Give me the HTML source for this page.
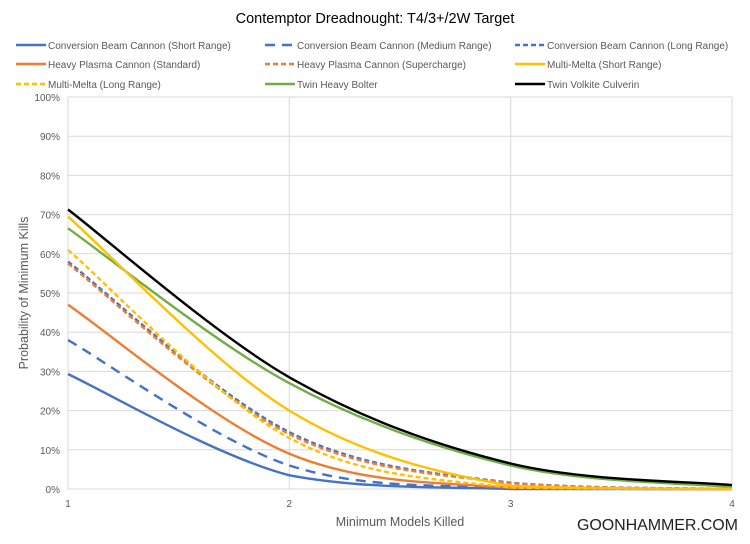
<!DOCTYPE html>
<html><head><meta charset="utf-8"><style>
body{margin:0;background:#fff}
svg{display:block;font-family:"Liberation Sans",sans-serif}
</style></head><body>
<svg id="s" width="750" height="544" xmlns="http://www.w3.org/2000/svg">
<rect width="750" height="544" fill="#fff"/>
<text x="375" y="23" font-size="14.5" text-anchor="middle" fill="#000">Contemptor Dreadnought: T4/3+/2W Target</text>
<g id="grid" stroke="#d9d9d9" stroke-width="1"></g>
<g id="lab" font-size="10" fill="#595959"></g>
<text x="400" y="526" font-size="12.5" text-anchor="middle" fill="#595959">Minimum Models Killed</text>
<text transform="translate(28,293) rotate(-90)" font-size="12.5" text-anchor="middle" fill="#595959">Probability of Minimum Kills</text>
<text x="577" y="530" font-size="16" fill="#222" textLength="161" lengthAdjust="spacing">GOONHAMMER.COM</text>
<g id="leg" font-size="10" fill="#595959"></g>
<g id="ser" fill="none" stroke-width="2.4"></g>
</svg>
<script>
var NS="http://www.w3.org/2000/svg";
function el(p,t,a,txt){var e=document.createElementNS(NS,t);for(var k in a)e.setAttribute(k,a[k]);if(txt)e.textContent=txt;document.getElementById(p).appendChild(e);}
var X0=68,X1=732,Y0=489,Y1=97;
function px(x){return X0+(x-1)*(X1-X0)/3}
function py(v){return Y0-(v/100)*(Y0-Y1)}
for(var i=0;i<=10;i++){var y=py(i*10);el("grid","line",{x1:X0,x2:X1,y1:y,y2:y});el("lab","text",{x:60,y:y+4,"text-anchor":"end"},i*10+"%");}
for(var j=1;j<=4;j++){var x=px(j);el("grid","line",{x1:x,x2:x,y1:Y1,y2:Y0});el("lab","text",{x:x,y:507,"text-anchor":"middle"},j);}
var B="#4472c4",O="#ed7d31",Y="#ffc000",G="#70ad47",K="#000";
var S=[
["Conversion Beam Cannon (Short Range)",B,0,[29.3,3.5,0,0]],
["Conversion Beam Cannon (Medium Range)",B,"10,7",[38,6,0.2,0]],
["Conversion Beam Cannon (Long Range)",B,"5,3",[58,14.5,1.6,0]],
["Heavy Plasma Cannon (Standard)",O,0,[47,9,0.3,0]],
["Heavy Plasma Cannon (Supercharge)",O,"5,3",[57.5,14,1.5,0]],
["Multi-Melta (Short Range)",Y,0,[69.5,20,0.8,0]],
["Multi-Melta (Long Range)",Y,"5,3",[61,13,0.4,0]],
["Twin Heavy Bolter",G,0,[66.5,27,6,0.5]],
["Twin Volkite Culverin",K,0,[71.3,28.5,6.5,1]]];
var order=[7,0,1,2,3,4,6,5,8];
var cols=[16,265,515],rows=[45,64,84];
S.forEach(function(s,i){var r=Math.floor(i/3),c=i%3;var a={x1:cols[c],x2:cols[c]+30,y1:rows[r],y2:rows[r],stroke:s[1],"stroke-width":2.4};if(s[2])a["stroke-dasharray"]=s[2];el("leg","line",a);el("leg","text",{x:cols[c]+32,y:rows[r]+4},s[0]);});
order.forEach(function(i){var s=S[i];var P=s[3].map(function(v,k){return[px(k+1),py(v)]});
var d="M"+P[0][0]+","+P[0][1];
for(var k=0;k<3;k++){var p0=P[Math.max(k-1,0)],p1=P[k],p2=P[k+1],p3=P[Math.min(k+2,3)];
var c1=[p1[0]+(p2[0]-p0[0])/6,p1[1]+(p2[1]-p0[1])/6],c2=[p2[0]-(p3[0]-p1[0])/6,p2[1]-(p3[1]-p1[1])/6];
c1[1]=Math.min(c1[1],Y0);c2[1]=Math.min(c2[1],Y0);
d+=" C"+c1+" "+c2+" "+p2;}
var a={d:d,stroke:s[1]};if(s[2])a["stroke-dasharray"]=s[2];el("ser","path",a);});
</script>
</body></html>
